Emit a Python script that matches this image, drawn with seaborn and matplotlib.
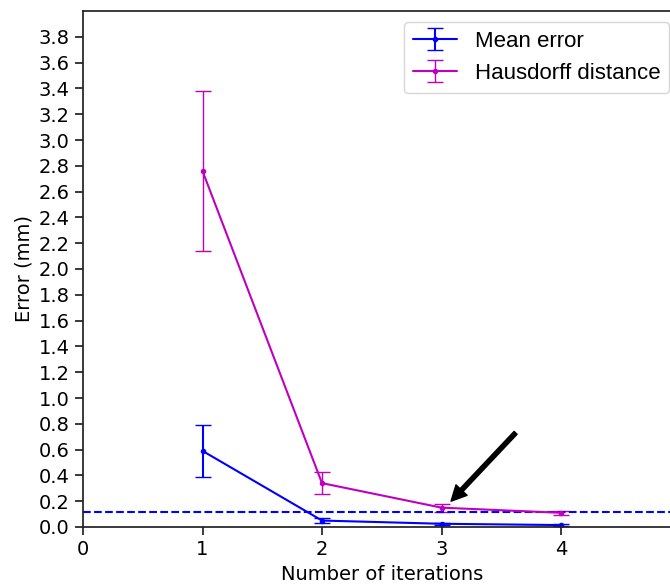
import matplotlib
matplotlib.use("Agg")
import matplotlib.pyplot as plt
import seaborn as sns

# data
iterations = [1, 2, 3, 4]
mean_error = [0.59, 0.05, 0.025, 0.015]
mean_error_err = [0.20, 0.022, 0.006, 0.006]
hausdorff = [2.76, 0.34, 0.15, 0.11]
hausdorff_err = [0.62, 0.085, 0.03, 0.015]
threshold = 0.12

sns.set_theme(style="ticks")
plt.rcParams["font.family"] = ["DejaVu Sans"]
plt.rcParams.update({
    "text.color": "black",
    "axes.labelcolor": "black",
    "axes.edgecolor": "#222222",
    "xtick.color": "#222222",
    "ytick.color": "#222222",
    "xtick.labelcolor": "black",
    "ytick.labelcolor": "black",
})

BLUE = "#0000ff"
MAGENTA = "#bf00bf"

fig = plt.figure(figsize=(6.7, 5.85), dpi=100)
# axes runs slightly past the right edge, like the cropped original
ax = fig.add_axes([83 / 670, 58 / 585, 597.5 / 670, 516 / 585])

ax.errorbar(iterations, mean_error, yerr=mean_error_err, fmt=".-", color=BLUE,
            markersize=6, linewidth=1.5, elinewidth=1.5, capsize=6,
            label="Mean error")
ax.errorbar(iterations, hausdorff, yerr=hausdorff_err, fmt=".-", color=MAGENTA,
            markersize=6, linewidth=1.5, elinewidth=1.0, capsize=6,
            label="Hausdorff distance")
ax.axhline(threshold, color=BLUE, linestyle="--", linewidth=1.5)

ax.annotate("", xy=(3.08, 0.2), xytext=(3.62, 0.73),
            arrowprops=dict(facecolor="black", edgecolor="black", width=3,
                            headwidth=11, headlength=11, shrink=0))

ax.set_xlim(0, 5)
ax.set_ylim(0, 4.0)
ax.set_xticks([0, 1, 2, 3, 4])
ax.set_yticks([round(0.2 * i, 1) for i in range(20)])
ax.set_yticklabels([f"{0.2 * i:.1f}" for i in range(20)])
ax.tick_params(labelsize=14)
ax.set_xlabel("Number of iterations", fontsize=14)
ax.set_ylabel("Error (mm)", fontsize=14)
ax.legend(loc="upper right", prop={"family": "Liberation Sans", "size": 16})

fig.savefig("out.png", dpi=100)
